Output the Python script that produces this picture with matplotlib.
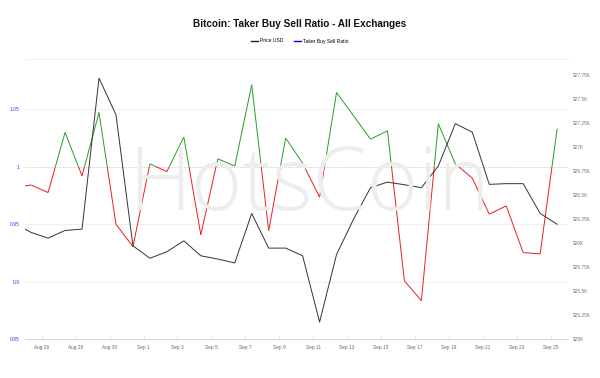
import matplotlib
matplotlib.use("Agg")
import matplotlib.pyplot as plt
import matplotlib.dates as mdates
from matplotlib.collections import LineCollection
from matplotlib.lines import Line2D
import numpy as np
import pandas as pd

plt.rcParams['font.family'] = ['Liberation Sans', 'DejaVu Sans']

# ---- data ----
dates = pd.date_range('2023-08-24 09:00', periods=33, freq='D')
ratio = [0.982, 0.984, 0.9775, 1.0297, 0.992, 1.047, 0.950, 0.9305, 1.0024, 0.9957,
         1.0257, 0.9407, 1.0068, 1.0005, 1.0711, 0.9444, 1.0248, 1.0030, 0.9735, 1.0644,
         1.0442, 1.0239, 1.0311, 0.9007, 0.8836, 1.0372, 1.0024, 0.990, 0.9587, 0.9659,
         0.9253, 0.9242, 1.0329]
price = [26204, 26107, 26048, 26128, 26142, 27716, 27335, 25968, 25838, 25906,
         26020, 25864, 25830, 25789, 26305, 25944, 25944, 25864, 25173, 25877,
         26245, 26574, 26632, 26605, 26574, 26801, 27242, 27153, 26609, 26616,
         26616, 26305, 26193]
tick_dates = pd.date_range('2023-08-26', '2023-09-25', freq='2D')
left_ticks = [0.85, 0.9, 0.95, 1.0, 1.05]
right_ticks = np.arange(25000, 27751, 250)

title = 'Bitcoin: Taker Buy Sell Ratio - All Exchanges'

fig = plt.figure(figsize=(6, 3.78), dpi=100)
ax = fig.add_axes([25/600, 1 - 339.3/378, (567.5 - 25)/600, (339.3 - 59)/378])
ax2 = ax.twinx()

# watermark
fig.text(309/600, 1 - 187/378, 'HotsCoin', fontsize=63, color='#ededed',
         ha='center', va='center', family=['Open Sans', 'DejaVu Sans'],
         fontweight='light', zorder=0)

x = mdates.date2num(dates)
y = np.array(ratio)

# build ratio segments split at 1.0
segs, cols = [], []
for i in range(len(x) - 1):
    x0, x1, y0, y1 = x[i], x[i+1], y[i], y[i+1]
    if (y0 - 1) * (y1 - 1) < 0:
        t = (1 - y0) / (y1 - y0)
        xc = x0 + t * (x1 - x0)
        segs.append([(x0, y0), (xc, 1.0)])
        cols.append('#22a022' if y0 > 1 else '#ee1c1c')
        segs.append([(xc, 1.0), (x1, y1)])
        cols.append('#22a022' if y1 > 1 else '#ee1c1c')
    else:
        segs.append([(x0, y0), (x1, y1)])
        cols.append('#22a022' if (y0 + y1) / 2 >= 1 else '#ee1c1c')
lc = LineCollection(segs, colors=cols, linewidths=0.7, zorder=3)
ax.add_collection(lc)

ax2.plot(dates, price, color='#333333', lw=0.7, zorder=3)

# axes limits
ax.set_xlim(pd.Timestamp('2023-08-25 00:20'), pd.Timestamp('2023-09-25 23:40'))
ax.set_ylim(0.85, 1.0935)
ax2.set_ylim(24993, 27916)

# grid
for v in left_ticks:
    if v == 1.0:
        ax.axhline(v, color='#bbbbbb', lw=0.6, ls=(0, (1, 1.5)), zorder=1)
    elif v != 0.85:
        ax.axhline(v, color='#ececec', lw=0.6, zorder=1)

ax.set_yticks(left_ticks)
ax.set_yticklabels([f'{v:g}' for v in left_ticks])
ax.tick_params(axis='y', length=0, pad=4, labelsize=3.6, labelcolor='#3a3aff')

ax2.set_yticks(right_ticks)
ax2.set_yticklabels([f'${v/1000:g}K' for v in right_ticks])
ax2.tick_params(axis='y', length=0, pad=4, labelsize=3.4, labelcolor='#777777')

ax.set_xticks(tick_dates)
ax.xaxis.set_major_formatter(mdates.DateFormatter('%b %-d'))
ax.tick_params(axis='x', direction='in', length=2.5, width=0.5, color='#cccccc',
               pad=4, labelsize=3.4, labelcolor='#666666')

for a in (ax, ax2):
    for s in ('left', 'right'):
        a.spines[s].set_visible(False)
    a.spines['top'].set_color('#f2f2f2')
    a.spines['top'].set_linewidth(0.6)
    a.spines['bottom'].set_color('#d8d8d8')
    a.spines['bottom'].set_linewidth(0.6)
ax.patch.set_visible(False)
ax2.patch.set_visible(False)

fig.text(0.5, 1 - 24/378, title, ha='center', va='center', fontsize=7.2,
         fontweight='bold', color='#111111')

handles = [Line2D([], [], color='#222222', lw=1.0),
           Line2D([], [], color='#0000ff', lw=1.0)]
fig.legend(handles, ['Price USD', 'Taker Buy Sell Ratio'], loc='center',
           bbox_to_anchor=(0.5, 1 - 41/378), ncol=2, frameon=False,
           fontsize=3.6, handlelength=1.3, handletextpad=0.5, columnspacing=2.2)

fig.savefig('out.png', dpi=100)
